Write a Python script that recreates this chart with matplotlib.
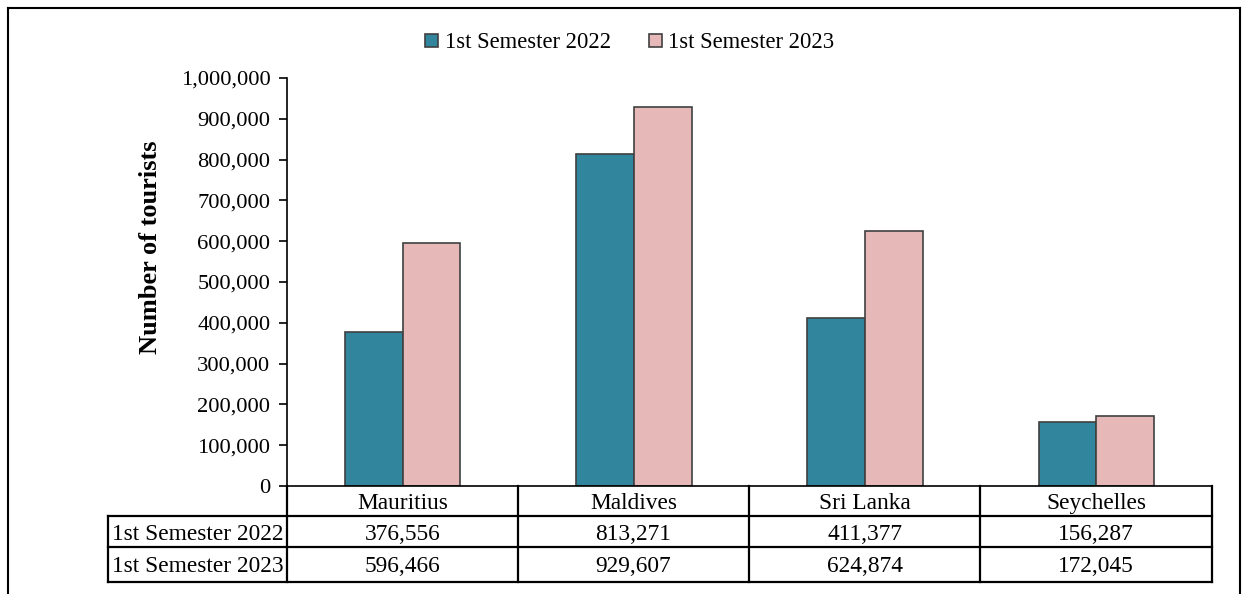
import matplotlib.pyplot as plt
from matplotlib.lines import Line2D
from matplotlib.patches import Patch
from matplotlib.ticker import FuncFormatter
import numpy as np

countries = ['Mauritius', 'Maldives', 'Sri Lanka', 'Seychelles']
series_names = ['1st Semester 2022', '1st Semester 2023']
sem_2022 = [376556, 813271, 411377, 156287]
sem_2023 = [596466, 929607, 624874, 172045]
yticks = [0, 100000, 200000, 300000, 400000, 500000, 600000, 700000, 800000, 900000, 1000000]

teal = '#31859C'
pink = '#E6B9B8'
edge = '#404040'

plt.rcParams['font.family'] = ['Liberation Serif', 'DejaVu Serif']
plt.rcParams['font.size'] = 16

W, H = 1246, 594
fig = plt.figure(figsize=(W / 100, H / 100), dpi=100)

def fx(px):
    return px / W

def fy(py):
    return 1 - py / H

# axes area in pixels: x 287..1212, y 78..486
ax = fig.add_axes([fx(287), fy(486), fx(1212) - fx(287), fy(78) - fy(486)])

x = np.arange(len(countries))
bw = 0.25
ax.bar(x - bw / 2, sem_2022, bw, color=teal, edgecolor=edge, linewidth=1.2, label=series_names[0])
ax.bar(x + bw / 2, sem_2023, bw, color=pink, edgecolor=edge, linewidth=1.2, label=series_names[1])

ax.set_xlim(-0.5, len(countries) - 0.5)
ax.set_ylim(0, 1000000)
ax.set_yticks(yticks)
ax.yaxis.set_major_formatter(FuncFormatter(lambda v, p: f'{int(v):,}'))
ax.tick_params(axis='y', direction='out', length=6, width=1.2, pad=6, labelsize=16.2)
ax.set_xticks([])
for s in ['top', 'right']:
    ax.spines[s].set_visible(False)
ax.spines['left'].set_linewidth(1.2)
ax.spines['bottom'].set_linewidth(1.2)

ax.set_ylabel('Number of tourists', fontsize=19, fontweight='bold')
ax.yaxis.set_label_coords(-0.135, 0.586)

# data table below the axes
lw = 1.6
rows = [486, 516, 547, 582]
cols = [287, 518, 749, 980, 1212]
lbl_left = 108
lines = []
for r in rows[1:]:
    lines.append(([fx(lbl_left), fx(cols[-1])], [fy(r), fy(r)]))
for c in cols:
    lines.append(([fx(c), fx(c)], [fy(rows[0]), fy(rows[-1])]))
lines.append(([fx(lbl_left), fx(lbl_left)], [fy(rows[1]), fy(rows[-1])]))
for xs, ys in lines:
    fig.add_artist(Line2D(xs, ys, color='black', linewidth=lw))

tfs = 16.8
def rowmid(k):
    return fy((rows[k] + rows[k + 1]) / 2 + 2.5)

for i, name in enumerate(countries):
    cx = fx((cols[i] + cols[i + 1]) / 2)
    fig.text(cx, rowmid(0), name, ha='center', va='center', fontsize=tfs)
    fig.text(cx, rowmid(1), f'{sem_2022[i]:,}', ha='center', va='center', fontsize=tfs)
    fig.text(cx, rowmid(2), f'{sem_2023[i]:,}', ha='center', va='center', fontsize=tfs)
for j, name in enumerate(series_names):
    fig.text(fx(lbl_left + 4), rowmid(j + 1), name, ha='left', va='center', fontsize=tfs)

# legend
handles = [Patch(facecolor=teal, edgecolor=edge, linewidth=1.2),
           Patch(facecolor=pink, edgecolor=edge, linewidth=1.2)]
fig.legend(handles, series_names, loc='center', bbox_to_anchor=(fx(630), fy(43)), ncol=2,
           frameon=False, fontsize=16.3, handlelength=0.55, handleheight=0.55,
           handletextpad=0.3, columnspacing=1.7)

# outer chart frame (bottom is cut off)
for xs, ys in [([fx(8), fx(8)], [0, fy(8)]), ([fx(8), fx(1240)], [fy(8), fy(8)]),
               ([fx(1240), fx(1240)], [fy(8), 0])]:
    fig.add_artist(Line2D(xs, ys, color='black', linewidth=1.5))

fig.savefig('out.png', dpi=100)
